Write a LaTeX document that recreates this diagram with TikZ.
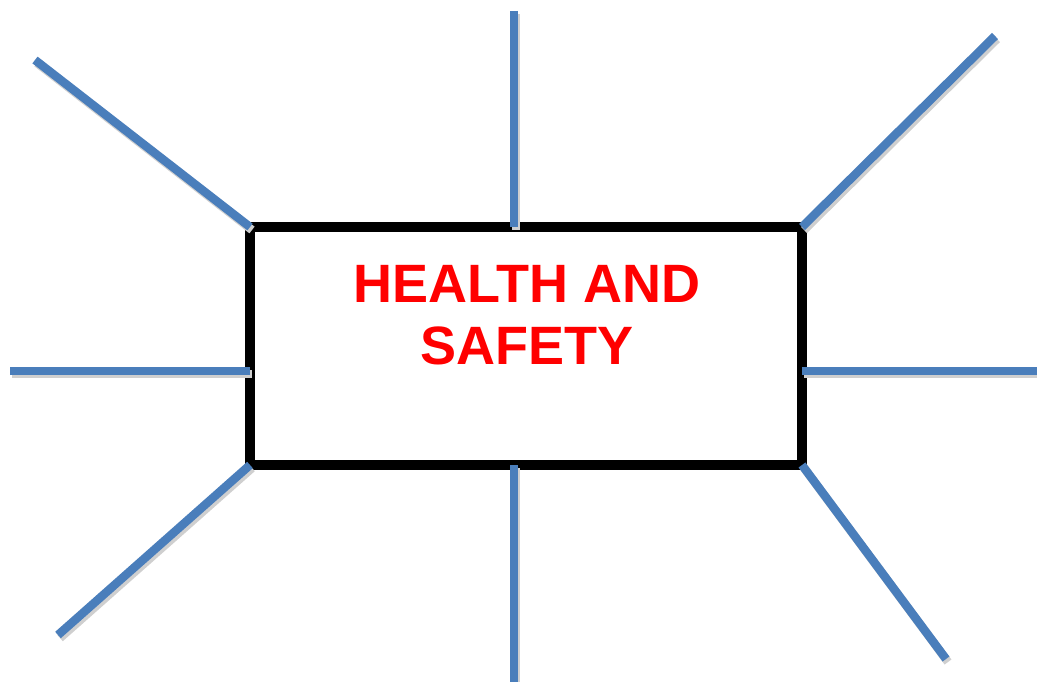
\documentclass[tikz,border=0pt]{standalone}
\usepackage{fontspec}
\setmainfont{Liberation Sans}
\definecolor{spoke}{HTML}{4A7EBB}
\definecolor{shade}{HTML}{CFCFCF}
\definecolor{titlered}{HTML}{FF0000}
\begin{document}
\begin{tikzpicture}[x=1pt,y=-1pt,
  spokeline/.style={draw=spoke,line width=8.5pt},
  shadeline/.style={draw=shade,line width=8.5pt,transform canvas={shift={(2pt,-3pt)}}},
  mainbox/.style={draw=black,line width=10pt,minimum width=552pt,minimum height=238pt,outer sep=0pt,inner sep=0pt},
  titletext/.style={text=titlered,font=\fontsize{54}{62}\selectfont\bfseries,align=center}]
\useasboundingbox (0,0) rectangle (1037,682);
\fill[white] (0,0) rectangle (1037,682);
\node[mainbox] (box) at (526,346) {};
\node[titletext] (title) at (527,315) {HEALTH AND\\SAFETY};
\coordinate (tl) at (35,60);
\coordinate (t) at (514,11);
\coordinate (tr) at (995,36);
\coordinate (l) at (10,371);
\coordinate (r) at (1037,371);
\coordinate (bl) at (58,635);
\coordinate (b) at (514,682);
\coordinate (br) at (946,659);
\coordinate (bt) at (box.north -| t);
\coordinate (bb) at (box.south -| b);
\coordinate (bl2) at (box.west |- l);
\coordinate (br2) at (box.east |- r);
\foreach \a/\b in {tl/box.north west,t/bt,tr/box.north east,l/bl2,r/br2,bl/box.south west,b/bb,br/box.south east}{
  \draw[shadeline] (\a) -- (\b);
}
\foreach \a/\b in {tl/box.north west,t/bt,tr/box.north east,l/bl2,r/br2,bl/box.south west,b/bb,br/box.south east}{
  \draw[spokeline] (\a) -- (\b);
}
\end{tikzpicture}
\end{document}
